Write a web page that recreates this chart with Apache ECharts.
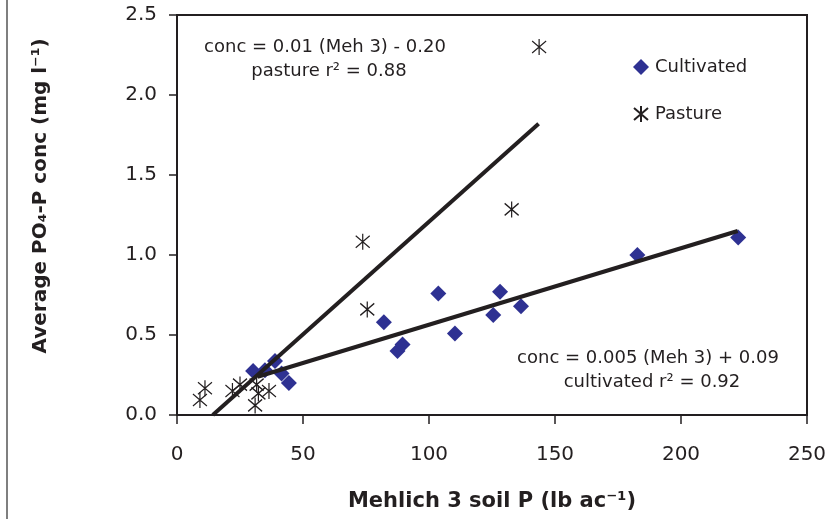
<!DOCTYPE html>
<html>
<head>
<meta charset="utf-8">
<script src="https://cdn.jsdelivr.net/npm/echarts@6/dist/echarts.min.js"></script>
<style>
  html, body { margin: 0; padding: 0; background: #fff; }
  #soil_p_chart { width: 831px; height: 519px; }
</style>
</head>
<body>
<div id="soil_p_chart"></div>
<script>
'use strict';

/*--------------- data -------------*/
var cultivatedX = [222.7, 182.7, 103.7, 128.2, 136.5, 125.5, 110.3, 82.1, 87.5, 89.5, 30.2, 34.9, 38.9, 41.5, 44.4];
var cultivatedY = [1.11, 1.00, 0.76, 0.77, 0.68, 0.625, 0.51, 0.58, 0.40, 0.44, 0.275, 0.28, 0.338, 0.26, 0.20];

var pastureX = [143.7, 132.8, 73.7, 75.5, 11.1, 9.1, 22, 25, 31.6, 32.3, 36.5, 31];
var pastureY = [2.30, 1.285, 1.083, 0.66, 0.167, 0.094, 0.15, 0.19, 0.19, 0.135, 0.15, 0.06];

// regression lines as drawn (end points)
var pastureFitX = [14.2, 143.5];
var pastureFitY = [0, 1.82];
var cultivatedFitX = [32, 222.5];
var cultivatedFitY = [0.239, 1.15];

var xTicks = [0, 50, 100, 150, 200, 250];
var yTicks = [0, 0.5, 1.0, 1.5, 2.0, 2.5];

function pairs(xs, ys) {
    var out = [];
    for (var i = 0; i < xs.length; i++) {
        out.push([xs[i], ys[i]]);
    }
    return out;
}

var ink = '#231f20';
var font = 'DejaVu Sans';
var starPath = 'path://M7,0L7,16M0,2L14,14M0,14L14,2';

var myChart = echarts.init(document.getElementById('soil_p_chart'));

var option = {
    animation: false,
    grid: {
        left: 177, right: 24, top: 15, bottom: 104,
        show: true,
        borderColor: ink,
        borderWidth: 2,
        backgroundColor: 'transparent'
    },
    legend: {
        orient: 'vertical',
        left: 628,
        top: 53,
        itemWidth: 16,
        itemHeight: 16,
        itemGap: 29,
        data: ['Cultivated', 'Pasture'],
        textStyle: { fontFamily: font, fontSize: 18, color: ink, padding: [0, 0, 0, 1] }
    },
    xAxis: {
        type: 'value',
        min: xTicks[0],
        max: xTicks[xTicks.length - 1],
        interval: xTicks[1] - xTicks[0],
        name: 'Mehlich 3 soil P (lb ac\u207B\u00B9)',
        nameLocation: 'middle',
        nameGap: 76,
        nameTextStyle: { fontFamily: font, fontSize: 21, fontWeight: 'bold', color: ink },
        axisLine: { lineStyle: { color: ink, width: 1.5 } },
        axisTick: { length: 9, lineStyle: { color: ink, width: 1.5 } },
        axisLabel: { fontFamily: font, fontSize: 20, color: ink, margin: 30 },
        splitLine: { show: false }
    },
    yAxis: {
        type: 'value',
        min: yTicks[0],
        max: yTicks[yTicks.length - 1],
        interval: yTicks[1] - yTicks[0],
        name: 'Average PO\u2084-P conc (mg l\u207B\u00B9)',
        nameLocation: 'middle',
        nameRotate: 90,
        nameGap: 126,
        nameTextStyle: { fontFamily: font, fontSize: 20, fontWeight: 'bold', color: ink, padding: [0, 0, 0, 38] },
        axisLine: { lineStyle: { color: ink, width: 1.5 } },
        axisTick: { length: 8, lineStyle: { color: ink, width: 1.5 } },
        axisLabel: {
            fontFamily: font, fontSize: 20, color: ink, margin: 20,
            formatter: function (v) { return v.toFixed(1); }
        },
        splitLine: { show: false }
    },
    graphic: [
        { type: 'line', shape: { x1: 7, y1: 0, x2: 7, y2: 519 }, style: { stroke: '#555', lineWidth: 1.5 } },
        { type: 'text', x: 325, y: 47, style: { text: 'conc = 0.01 (Meh 3) - 0.20', align: 'center', verticalAlign: 'middle', fontFamily: font, fontSize: 18, fill: ink } },
        { type: 'text', x: 329, y: 71, style: { text: 'pasture r\u00B2 = 0.88', align: 'center', verticalAlign: 'middle', fontFamily: font, fontSize: 18, fill: ink } },
        { type: 'text', x: 648, y: 358, style: { text: 'conc = 0.005 (Meh 3) + 0.09', align: 'center', verticalAlign: 'middle', fontFamily: font, fontSize: 18, fill: ink } },
        { type: 'text', x: 652, y: 382, style: { text: 'cultivated r\u00B2 = 0.92', align: 'center', verticalAlign: 'middle', fontFamily: font, fontSize: 18, fill: ink } }
    ],
    series: [
        {
            name: 'Cultivated',
            type: 'scatter',
            symbol: 'diamond',
            symbolSize: 16,
            itemStyle: { color: '#2e3192', opacity: 1 },
            data: pairs(cultivatedX, cultivatedY)
        },
        {
            name: 'Pasture',
            type: 'scatter',
            symbol: starPath,
            symbolSize: [14, 16],
            itemStyle: { color: 'rgba(0,0,0,0)', borderColor: ink, borderWidth: 1.3, opacity: 1 },
            data: pairs(pastureX, pastureY)
        },
        {
            name: 'pasture fit',
            type: 'line',
            symbol: 'none',
            lineStyle: { color: ink, width: 4 },
            data: pairs(pastureFitX, pastureFitY)
        },
        {
            name: 'cultivated fit',
            type: 'line',
            symbol: 'none',
            lineStyle: { color: ink, width: 4 },
            data: pairs(cultivatedFitX, cultivatedFitY)
        }
    ]
};

myChart.setOption(option);
</script>
</body>
</html>
